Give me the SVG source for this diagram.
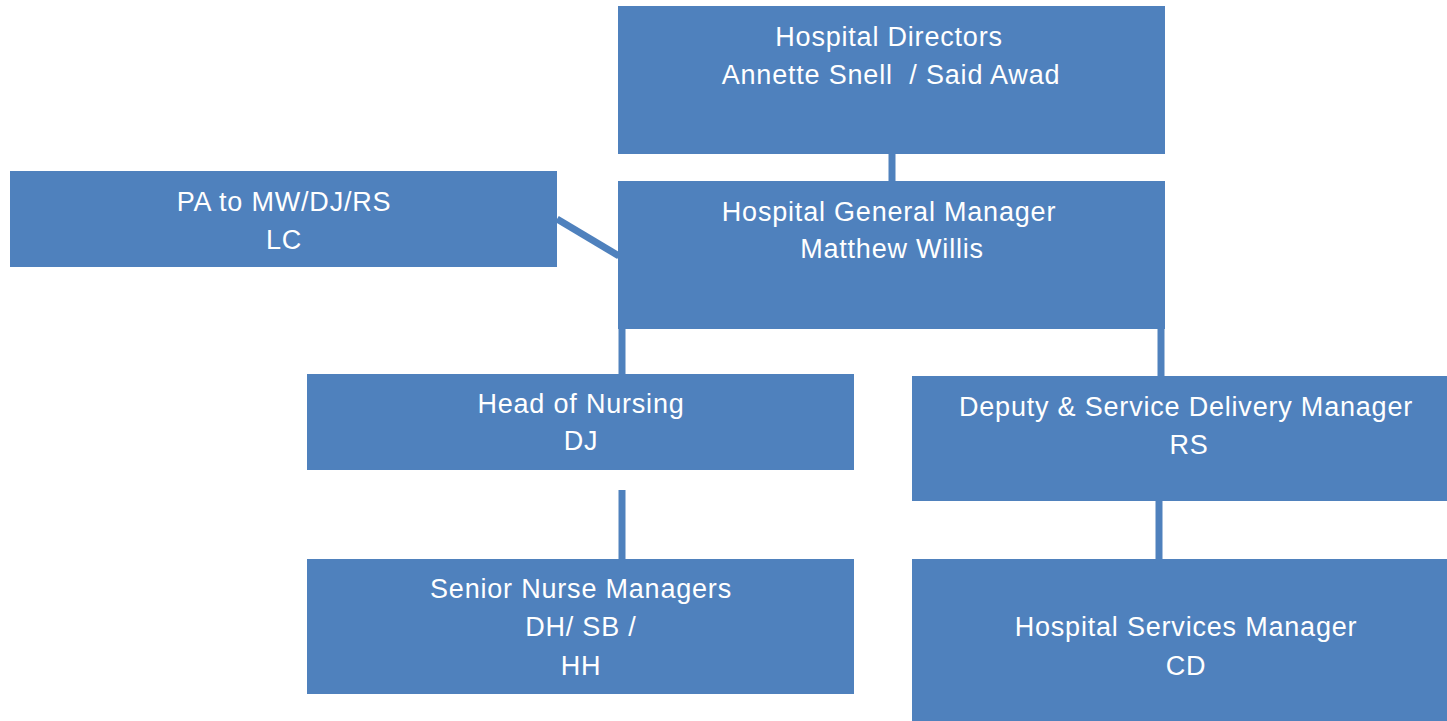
<svg xmlns="http://www.w3.org/2000/svg" width="1447" height="721" viewBox="0 0 1447 721">
<style>
.box{fill:#4F81BD}
.t{fill:#fff;font-family:"Liberation Sans","Open Sans",sans-serif;font-size:27px;letter-spacing:0.8px;text-anchor:middle;white-space:pre}
.c{stroke:#4F81BD;stroke-width:7;fill:none}
</style>
<rect width="1447" height="721" fill="#fff"/>
<g id="connectors">
<line class="c" x1="892" y1="150" x2="892" y2="185"/>
<line class="c" x1="557" y1="219" x2="619" y2="256"/>
<line class="c" x1="622" y1="325" x2="622" y2="378"/>
<line class="c" x1="1161" y1="304" x2="1161" y2="380"/>
<line class="c" x1="622" y1="490" x2="622" y2="563"/>
<line class="c" x1="1159" y1="488" x2="1159" y2="563"/>
</g>
<g id="directors"><rect class="box" x="618" y="6" width="547" height="148"/>
<text class="t" x="889" y="46">Hospital Directors</text><text class="t" x="891" y="84" xml:space="preserve">Annette Snell  / Said Awad</text></g>
<g id="gm"><rect class="box" x="618" y="181" width="547" height="148"/>
<text class="t" x="889" y="221">Hospital General Manager</text><text class="t" x="892" y="258">Matthew Willis</text></g>
<g id="pa"><rect class="box" x="10" y="171" width="547" height="96"/>
<text class="t" x="284" y="211">PA to MW/DJ/RS</text><text class="t" x="284" y="249">LC</text></g>
<g id="hon"><rect class="box" x="307" y="374" width="547" height="96"/>
<text class="t" x="581" y="413">Head of Nursing</text><text class="t" x="581" y="450">DJ</text></g>
<g id="dsdm"><rect class="box" x="912" y="376" width="535" height="125"/>
<text class="t" x="1186" y="416">Deputy &amp; Service Delivery Manager</text><text class="t" x="1189" y="454">RS</text></g>
<g id="snm"><rect class="box" x="307" y="559" width="547" height="135"/>
<text class="t" x="581" y="598">Senior Nurse Managers</text><text class="t" x="585" y="636" xml:space="preserve">DH/ SB / </text><text class="t" x="581" y="675">HH</text></g>
<g id="hsm"><rect class="box" x="912" y="559" width="535" height="162"/>
<text class="t" x="1186" y="636">Hospital Services Manager</text><text class="t" x="1186" y="675">CD</text></g>
</svg>
